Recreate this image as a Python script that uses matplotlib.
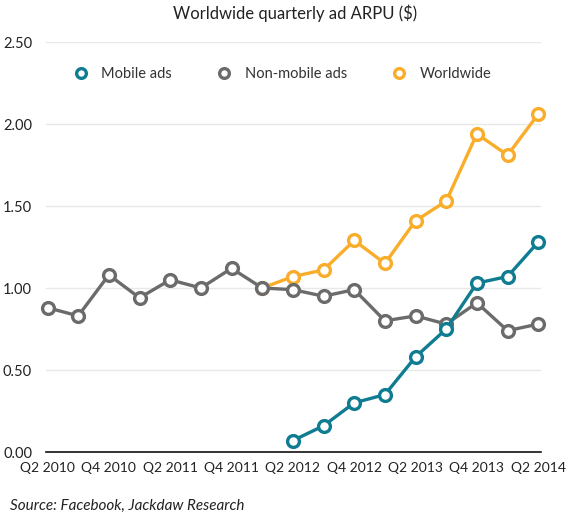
import matplotlib.pyplot as plt
from matplotlib.lines import Line2D
import numpy as np

quarters = ['Q2 2010', 'Q3 2010', 'Q4 2010', 'Q1 2011', 'Q2 2011', 'Q3 2011',
            'Q4 2011', 'Q1 2012', 'Q2 2012', 'Q3 2012', 'Q4 2012', 'Q1 2013',
            'Q2 2013', 'Q3 2013', 'Q4 2013', 'Q1 2014', 'Q2 2014']
non_mobile = [0.88, 0.83, 1.08, 0.94, 1.05, 1.00, 1.12, 1.00, 0.99, 0.95,
              0.99, 0.80, 0.83, 0.78, 0.91, 0.74, 0.78]
worldwide = [None] * 7 + [1.00, 1.07, 1.11, 1.29, 1.15, 1.41, 1.53, 1.94, 1.81, 2.06]
mobile = [None] * 8 + [0.07, 0.16, 0.30, 0.35, 0.58, 0.75, 1.03, 1.07, 1.28]
yticks = [0.0, 0.5, 1.0, 1.5, 2.0, 2.5]

plt.rcParams['font.family'] = ['Lato', 'DejaVu Sans']

fig = plt.figure(figsize=(5.68, 5.25), dpi=100)
ax = fig.add_axes([0.081, 0.139, 0.872, 0.781])

x = np.arange(len(quarters))
series = [
    ('Mobile ads', mobile, '#107c91'),
    ('Non-mobile ads', non_mobile, '#6b6b6b'),
    ('Worldwide', worldwide, '#f9ad2a'),
]
# draw worldwide first, then non-mobile, then mobile on top
for name, vals, color in [series[2], series[1], series[0]]:
    xs = [i for i, v in zip(x, vals) if v is not None]
    ys = [v for v in vals if v is not None]
    ax.plot(xs, ys, color=color, lw=2.4, marker='o', ms=8.5,
            mfc='white', mec=color, mew=2.4, clip_on=False, zorder=3)

ax.set_xlim(-0.05, 16.1)
ax.set_ylim(0, 2.5)
ax.set_yticks(yticks)
ax.set_yticklabels([f'{v:.2f}' for v in yticks])
ax.set_xticks(x[::2])
ax.set_xticklabels(quarters[::2])
ax.tick_params(length=0, colors='#222222')
ax.tick_params(axis='x', labelsize=10, pad=7)
ax.tick_params(axis='y', labelsize=10.5, pad=10)
ax.grid(axis='y', color='#e8e8e8', lw=1)
ax.set_axisbelow(True)
for s in ['top', 'right', 'left']:
    ax.spines[s].set_visible(False)
ax.spines['bottom'].set_color('#111111')
ax.spines['bottom'].set_linewidth(1.2)

handles = [Line2D([], [], ls='none', marker='o', ms=7, mfc='white', mec=c, mew=2.4)
           for _, _, c in series]
ax.legend(handles, [s[0] for s in series], loc='upper center', ncol=3,
          frameon=False, bbox_to_anchor=(0.47, 0.97), fontsize=10.5,
          handletextpad=0.4, columnspacing=2.6, labelcolor='#333333')

fig.text(0.52, 0.975, 'Worldwide quarterly ad ARPU ($)', ha='center', va='center',
         fontsize=12, color='#222222')
fig.text(0.018, 0.037, 'Source: Facebook, Jackdaw Research', ha='left', va='center',
         fontsize=11, style='italic', color='#222222')

fig.savefig('out.png', dpi=100)
